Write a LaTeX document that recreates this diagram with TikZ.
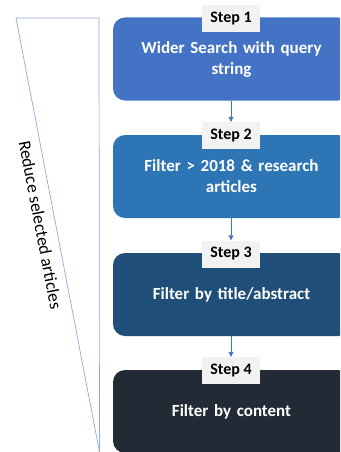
\documentclass[tikz,border=0pt]{standalone}
\usepackage{fontspec}
\setmainfont{Carlito}
\usetikzlibrary{arrows.meta}
\definecolor{c1}{HTML}{4472C4}
\definecolor{c2}{HTML}{2E75B6}
\definecolor{c3}{HTML}{1F4E79}
\definecolor{c4}{HTML}{222A35}
\definecolor{lbl}{HTML}{F2F2F2}
\definecolor{tri}{HTML}{8FAADC}
\tikzset{
  stepbox/.style={rectangle, rounded corners=12pt, minimum width=237pt, minimum height=83pt, text width=220pt, align=center, text=white, font=\fontsize{17}{21}\selectfont\bfseries, inner sep=0pt},
  steplbl/.style={rectangle, fill=lbl, minimum width=58pt, minimum height=27pt, inner sep=0pt, font=\fontsize{16}{18}\selectfont\bfseries},
  conn/.style={draw=c1, line width=0.6pt, -{Triangle[length=5pt,width=5pt]}},
  triline/.style={draw=tri, line width=0.7pt}
}
\begin{document}
\begin{tikzpicture}[x=1pt,y=-1pt]
\useasboundingbox (0,0) rectangle (340,452);
\clip (0,0) rectangle (340,452);
\coordinate (t1) at (16,18);
\coordinate (t2) at (99,18);
\coordinate (t3) at (99.5,452);
\draw[triline] (t1) -- (t2) -- (t3) -- cycle;
\node[font=\fontsize{17.5}{20}\selectfont, rotate=-79.2] (rsa) at (40.5,225) {Reduce selected articles};
\node[stepbox, fill=c1] (b1) at (231.5,59) {Wider Search with query\\string};
\node[stepbox, fill=c2] (b2) at (231.5,176.5) {Filter > 2018 \& research\\articles};
\node[stepbox, fill=c3] (b3) at (231.5,294.5) {Filter by title/abstract};
\node[stepbox, fill=c4] (b4) at (231.5,411.5) {Filter by content};
\node[steplbl] (s1) at (231,18.5) {Step 1};
\node[steplbl] (s2) at (231,135.5) {Step 2};
\node[steplbl] (s3) at (231,254) {Step 3};
\node[steplbl] (s4) at (231,370.5) {Step 4};
\draw[conn] (b1.south -| s2.north) -- (s2.north);
\draw[conn] (b2.south -| s3.north) -- (s3.north);
\draw[conn] (b3.south -| s4.north) -- (s4.north);
\end{tikzpicture}
\end{document}
